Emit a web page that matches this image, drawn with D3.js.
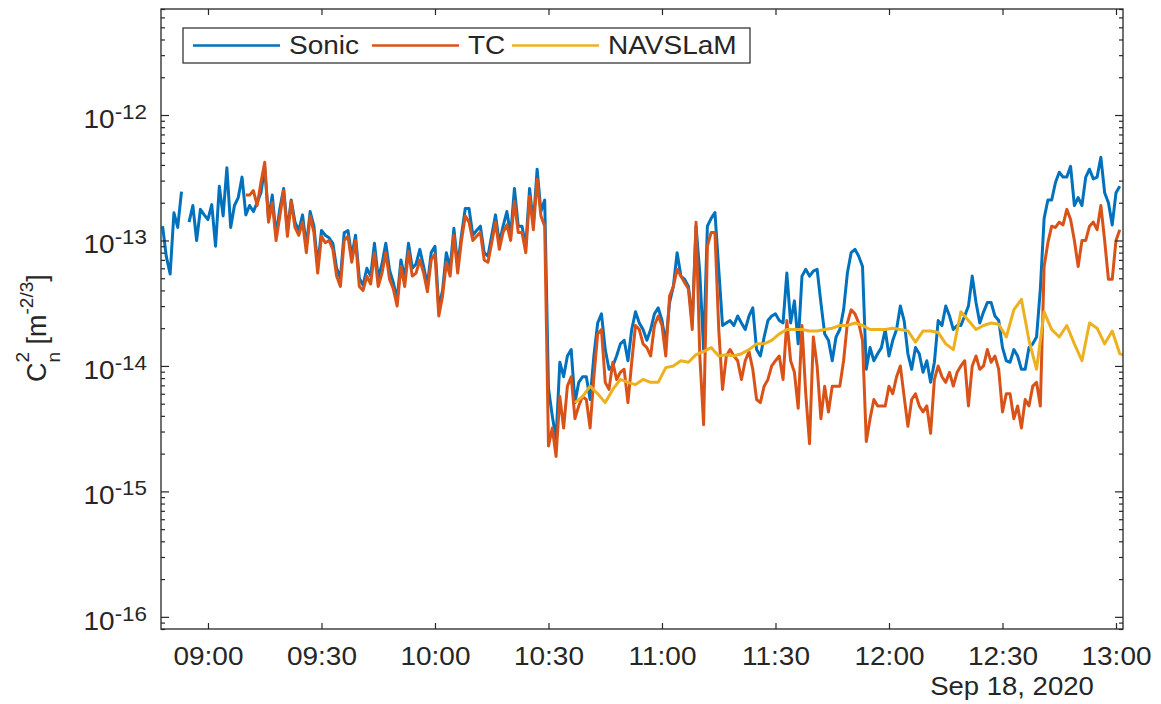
<!DOCTYPE html>
<html>
<head>
<meta charset="utf-8">
<script src="https://cdn.jsdelivr.net/npm/d3@7"></script>
<style>
  body { margin: 0; background: #fff; }
  svg { display: block; font-family: "Liberation Sans", Arial, sans-serif; }
</style>
</head>
<body>
<div id="chart"></div>
<script>
// Series, one sample per minute (NAVSLaM every two minutes), values in m^-2/3.
const day = "2020-09-18";
const sonicStart = "08:48";
const sonicStep = 1;
const sonicValues = [
  1.3e-13, 7.4e-14, 5.4e-14, 1.66e-13, 1.27e-13, 2.45e-13, null, 1.4e-13, 1.9e-13, 1.0e-13,
  1.77e-13, 1.6e-13, 1.47e-13, 1.93e-13, 9e-14, 2.7e-13, 1.57e-13, 3.8e-13, 1.27e-13, 1.9e-13,
  2.2e-13, 3.2e-13, 1.6e-13, 1.9e-13, 1.7e-13, 2.0e-13, 2.4e-13, 3.8e-13, 1.5e-13, 2.3e-13,
  1.1e-13, 1.8e-13, 2.6e-13, 1.2e-13, 2.1e-13, 1.4e-13, 1.2e-13, 1.6e-13, 9e-14, 1.7e-13,
  1.3e-13, 6.3e-14, 1.2e-13, 1.1e-13, 1.05e-13, 9.5e-14, 6e-14, 5e-14, 1.15e-13, 1.2e-13,
  7.5e-14, 1.1e-13, 5e-14, 4.4e-14, 6e-14, 5.2e-14, 9.5e-14, 5e-14, 6.5e-14, 9.5e-14,
  5.8e-14, 4.6e-14, 3.4e-14, 7e-14, 5e-14, 9.5e-14, 6e-14, 6.5e-14, 8.5e-14, 6.2e-14,
  4.4e-14, 8e-14, 9e-14, 2.9e-14, 4e-14, 8e-14, 6e-14, 1.25e-13, 6.3e-14, 1.1e-13,
  1.8e-13, 1.8e-13, 1.1e-13, 1.2e-13, 1.3e-13, 8e-14, 7.5e-14, 1.1e-13, 1.6e-13, 9.5e-14,
  1.3e-13, 1.7e-13, 1.1e-13, 2.6e-13, 1.3e-13, 1.3e-13, 9e-14, 2.6e-13, 1.35e-13, 3.7e-13,
  1.7e-13, 2.1e-13, 6.6e-15, 4.0e-15, 2.6e-15, 1.07e-14, 8.2e-15, 1.2e-14, 1.35e-14, 5.1e-15,
  7.4e-15, 8.2e-15, 8.2e-15, 5.4e-15, 1.2e-14, 2.2e-14, 2.6e-14, 1.35e-14, 9.4e-15, 1.0e-14,
  1.2e-14, 1.5e-14, 1.6e-14, 1.1e-14, 1.95e-14, 2.7e-14, 2.2e-14, 1.95e-14, 1.6e-14, 1.95e-14,
  2.6e-14, 2.9e-14, 2.3e-14, 1.5e-14, 3.2e-14, 4.3e-14, 8e-14, 5.2e-14, 4.9e-14, 4.3e-14,
  2.2e-14, 1.3e-13, 5.5e-14, 1.35e-14, 1.3e-13, 1.5e-13, 1.67e-13, 5.9e-14, 2.1e-14, 2.2e-14,
  2.3e-14, 2.1e-14, 2.5e-14, 2.2e-14, 1.95e-14, 2.5e-14, 2.9e-14, 1.35e-14, 1.2e-14, 1.7e-14,
  2.3e-14, 2.5e-14, 2.6e-14, 2.3e-14, 2.2e-14, 5.5e-14, 2.2e-14, 3.3e-14, 1.5e-14, 5.2e-14,
  5.9e-14, 5.2e-14, 5.7e-14, 5.9e-14, 3.2e-14, 1.8e-14, 1.6e-14, 1.1e-14, 1.7e-14, 1.95e-14,
  2.8e-14, 5.5e-14, 8e-14, 8.5e-14, 7.5e-14, 6.2e-14, 9.4e-15, 1.4e-14, 1.1e-14, 1.25e-14,
  1.4e-14, 1.95e-14, 1.2e-14, 1.6e-14, 1.95e-14, 3.0e-14, 2.3e-14, 1.25e-14, 9.4e-15, 1.4e-14,
  1.25e-14, 8.9e-15, 1.1e-14, 7.4e-15, 1.07e-14, 2.3e-14, 2.1e-14, 3.0e-14, 2.5e-14, 1.95e-14,
  2.1e-14, 2.1e-14, 2.5e-14, 3.0e-14, 5.2e-14, 3.2e-14, 2.2e-14, 2.7e-14, 3.2e-14, 3.2e-14,
  2.5e-14, 2.3e-14, 1.4e-14, 1.1e-14, 1.07e-14, 1.35e-14, 1.2e-14, 9.4e-15, 9.4e-15, 1.4e-14,
  1.5e-14, 1.7e-14, 4.1e-14, 1.5e-13, 2.1e-13, 2.1e-13, 2.9e-13, 3.5e-13, 3.2e-13, 3.2e-13,
  3.9e-13, 1.9e-13, 2.2e-13, 1.9e-13, 3.2e-13, 3.7e-13, 3.1e-13, 3.2e-13, 4.6e-13, 2.4e-13,
  2.0e-13, 1.33e-13, 2.4e-13, 2.7e-13
];

const tcStart = "09:10";
const tcStep = 1;
const tcValues = [
  2.3e-13, 2.3e-13, 2.5e-13, 1.9e-13, 2.9e-13, 4.2e-13, 1.4e-13, 2.0e-13, 1.0e-13, 1.57e-13,
  2.5e-13, 1.08e-13, 2.05e-13, 1.27e-13, 1.1e-13, 1.4e-13, 8e-14, 1.57e-13, 1.16e-13, 5.5e-14,
  1.08e-13, 9.6e-14, 1.0e-13, 8.5e-14, 5.2e-14, 4.3e-14, 1.0e-13, 1.08e-13, 6.7e-14, 1.0e-13,
  4.3e-14, 4.0e-14, 5.2e-14, 4.5e-14, 8e-14, 4.3e-14, 5.5e-14, 8e-14, 4.9e-14, 4.1e-14,
  3.0e-14, 6.2e-14, 4.3e-14, 8.2e-14, 5.2e-14, 5.5e-14, 7e-14, 5.5e-14, 3.9e-14, 7e-14,
  7.8e-14, 2.5e-14, 3.6e-14, 6.7e-14, 5.2e-14, 1.1e-13, 5.5e-14, 1.0e-13, 1.57e-13, 1.4e-13,
  1.0e-13, 1.08e-13, 1.16e-13, 7e-14, 6.7e-14, 9.6e-14, 1.4e-13, 8.5e-14, 1.16e-13, 1.33e-13,
  1.0e-13, 2.05e-13, 1.16e-13, 1.16e-13, 8e-14, 2.25e-13, 1.22e-13, 3.07e-13, 1.57e-13, 1.3e-13,
  2.3e-15, 3.2e-15, 1.9e-15, 5.7e-15, 3.2e-15, 6.9e-15, 8.2e-15, 3.8e-15, 4.8e-15, 5.7e-15,
  5.4e-15, 3.2e-15, 8.2e-15, 1.8e-14, 1.95e-14, 7.4e-15, 6.5e-15, 1.07e-14, 7.8e-15, 8.9e-15,
  9.4e-15, 5.1e-15, 1.07e-14, 2.1e-14, 1.95e-14, 1.5e-14, 1.4e-14, 1.2e-14, 2.1e-14, 2.5e-14,
  2.1e-14, 1.2e-14, 3.6e-14, 4.3e-14, 5.9e-14, 5.2e-14, 4.6e-14, 4.1e-14, 1.95e-14, 1.4e-13,
  1.2e-14, 3.4e-15, 9e-14, 1.16e-13, 1.16e-13, 1.95e-14, 6.5e-15, 1.2e-14, 1.35e-14, 1.2e-14,
  1.1e-14, 7.8e-15, 1.1e-14, 1.3e-14, 9.4e-15, 5.4e-15, 5.1e-15, 6.9e-15, 7.8e-15, 1.0e-14,
  1.1e-14, 1.2e-14, 7.8e-15, 2.3e-14, 1.1e-14, 8.9e-15, 4.6e-15, 2.1e-14, 6e-15, 2.4e-15,
  1.7e-14, 1.0e-14, 3.8e-15, 6.9e-15, 4.3e-15, 6.9e-15, 6.9e-15, 6.9e-15, 1.1e-14, 2.2e-14,
  2.8e-14, 2.6e-14, 2.2e-14, 1.6e-14, 2.5e-15, 3.8e-15, 5.4e-15, 4.8e-15, 4.8e-15, 4.8e-15,
  6.9e-15, 6e-15, 8.2e-15, 1.0e-14, 5.7e-15, 3.3e-15, 5.4e-15, 6e-15, 4.8e-15, 4.3e-15,
  4.8e-15, 2.9e-15, 7.8e-15, 1.0e-14, 8.2e-15, 7.4e-15, 8.9e-15, 6.9e-15, 8.9e-15, 1.0e-14,
  1.1e-14, 4.8e-15, 1.0e-14, 1.2e-14, 9.4e-15, 1.0e-14, 1.35e-14, 1.07e-14, 1.2e-14, 9.4e-15,
  4.3e-15, 6e-15, 6e-15, 3.8e-15, 4.8e-15, 3.2e-15, 5.4e-15, 4.8e-15, 6.9e-15, 7.4e-15,
  4.8e-15, 6.2e-14, 9.6e-14, 1.3e-13, 1.27e-13, 1.4e-13, 1.33e-13, 1.77e-13, 1.47e-13, 1.0e-13,
  6.2e-14, 1.0e-13, 1.0e-13, 1.3e-13, 1.4e-13, 1.22e-13, 1.9e-13, 1.0e-13, 4.9e-14, 4.9e-14,
  1.0e-13, 1.22e-13
];

const navslamStart = "10:37";
const navslamStep = 2;
const navslamValues = [
  5.1e-15, 5.7e-15, 6.9e-15, 6e-15, 5.1e-15, 6.5e-15, 7.8e-15, 7.4e-15, 7.1e-15, 7.8e-15,
  7.4e-15, 7.4e-15, 9.7e-15, 1.0e-14, 1.1e-14, 1.07e-14, 1.23e-14, 1.3e-14, 1.4e-14, 1.2e-14,
  1.23e-14, 1.2e-14, 1.25e-14, 1.35e-14, 1.5e-14, 1.5e-14, 1.6e-14, 1.8e-14, 1.95e-14, 1.95e-14,
  1.95e-14, 1.9e-14, 1.9e-14, 1.95e-14, 2.0e-14, 2.1e-14, 2.1e-14, 2.2e-14, 2.1e-14, 1.95e-14,
  1.95e-14, 1.95e-14, 2.0e-14, 1.95e-14, 1.9e-14, 1.55e-14, 1.9e-14, 1.9e-14, 1.85e-14, 1.5e-14,
  1.35e-14, 2.7e-14, 2.3e-14, 1.95e-14, 2.1e-14, 2.2e-14, 2.15e-14, 1.7e-14, 2.8e-14, 3.4e-14,
  1.6e-14, 9.4e-15, 2.7e-14, 1.95e-14, 1.7e-14, 2.1e-14, 1.5e-14, 1.1e-14, 2.2e-14, 2.0e-14,
  1.5e-14, 1.9e-14, 1.25e-14, 1.2e-14
];

const seriesNames = ["Sonic", "TC", "NAVSLaM"];
const seriesColors = ["#0072BD", "#D95319", "#EDB120"];
const xTickLabels = ["09:00", "09:30", "10:00", "10:30", "11:00", "11:30", "12:00", "12:30", "13:00"];
const yTickExponents = [-16, -15, -14, -13, -12];
const dateLabel = "Sep 18, 2020";
const yLabel = { base: "C", sup: "2", sub: "n", unit: " [m", unitSup: "-2/3", close: "]" };
const xLimits = ["08:47:35", "13:01:51"];
const yLimits = [8e-17, 7e-12];

const width = 1161;
const height = 704;
const plot = { left: 161, right: 1123, top: 9, bottom: 629 };
const ink = "#262626";
const stretch = "scale(1.12,1)";

const parseTime = d3.timeParse("%Y-%m-%d %H:%M:%S");
const at = (s) => parseTime(day + " " + (s.length === 5 ? s + ":00" : s));

const x = d3.scaleTime().domain(xLimits.map(at)).range([plot.left, plot.right]);
const y = d3.scaleLog().domain(yLimits).range([plot.bottom, plot.top]);

function toPoints(values, start, step) {
  const t0 = at(start).getTime();
  return values.map((v, i) => ({ t: new Date(t0 + i * step * 60000), v: v }));
}

const series = [
  toPoints(sonicValues, sonicStart, sonicStep),
  toPoints(tcValues, tcStart, tcStep),
  toPoints(navslamValues, navslamStart, navslamStep),
];

const svg = d3
  .select("#chart")
  .append("svg")
  .attr("width", width)
  .attr("height", height);

svg.append("rect").attr("width", width).attr("height", height).attr("fill", "#fff");

svg
  .append("clipPath")
  .attr("id", "clip")
  .append("rect")
  .attr("x", plot.left)
  .attr("y", plot.top)
  .attr("width", plot.right - plot.left)
  .attr("height", plot.bottom - plot.top);

// Data lines, Sonic first so TC and NAVSLaM sit on top.
const line = d3
  .line()
  .defined((d) => d.v != null)
  .x((d) => x(d.t))
  .y((d) => y(d.v));

svg
  .append("g")
  .attr("clip-path", "url(#clip)")
  .selectAll("path")
  .data(series)
  .enter()
  .append("path")
  .attr("d", line)
  .attr("fill", "none")
  .attr("stroke", (d, i) => seriesColors[i])
  .attr("stroke-width", 3)
  .attr("stroke-linejoin", "round");

// Tick positions: major decades plus log minor ticks.
const yMajor = yTickExponents.map((e) => Math.pow(10, e));
const yAll = [];
for (let e = -17; e <= -12; e++) {
  for (let k = 1; k <= 9; k++) {
    const v = k * Math.pow(10, e);
    if (v >= yLimits[0] && v <= yLimits[1]) yAll.push(v);
  }
}
const isMajor = (v) => yMajor.some((m) => Math.abs(m - v) / m < 1e-6);
const xTicks = xTickLabels.map(at);

function styleAxis(g) {
  g.select(".domain").remove();
  g.selectAll("line").attr("stroke", ink).attr("stroke-width", 1.2);
}

// Bottom axis with labels
svg
  .append("g")
  .attr("transform", `translate(0,${plot.bottom})`)
  .call(d3.axisBottom(x).tickValues(xTicks).tickFormat(d3.timeFormat("%H:%M")).tickSizeInner(-6).tickSizeOuter(0))
  .call(styleAxis)
  .call((g) =>
    g
      .selectAll("text")
      .attr("y", 36)
      .attr("dy", 0)
      .attr("fill", ink)
      .attr("font-size", 25)
      .attr("font-family", "Liberation Sans, Arial, sans-serif")
      .attr("transform", stretch)
  );

// Top axis: ticks only
svg
  .append("g")
  .attr("transform", `translate(0,${plot.top})`)
  .call(d3.axisTop(x).tickValues(xTicks).tickFormat("").tickSizeInner(-6).tickSizeOuter(0))
  .call(styleAxis);

// Left and right axes: ticks only, minors shorter
svg
  .append("g")
  .attr("transform", `translate(${plot.left},0)`)
  .call(d3.axisLeft(y).tickValues(yAll).tickFormat("").tickSizeInner(-8).tickSizeOuter(0))
  .call(styleAxis)
  .call((g) => g.selectAll(".tick line").filter((d) => !isMajor(d)).attr("x2", 4));

svg
  .append("g")
  .attr("transform", `translate(${plot.right},0)`)
  .call(d3.axisRight(y).tickValues(yAll).tickFormat("").tickSizeInner(-8).tickSizeOuter(0))
  .call(styleAxis)
  .call((g) => g.selectAll(".tick line").filter((d) => !isMajor(d)).attr("x2", -4));

// Box
svg
  .append("rect")
  .attr("x", plot.left)
  .attr("y", plot.top)
  .attr("width", plot.right - plot.left)
  .attr("height", plot.bottom - plot.top)
  .attr("fill", "none")
  .attr("stroke", ink)
  .attr("stroke-width", 1.3);

// Y tick labels 10^e
const yLabels = svg
  .append("g")
  .selectAll("text")
  .data(yTickExponents)
  .enter()
  .append("text")
  .attr("transform", (e) => `translate(147,${y(Math.pow(10, e)) + 13}) ${stretch}`)
  .attr("text-anchor", "end")
  .attr("fill", ink)
  .attr("font-size", 25);
yLabels.append("tspan").text("10");
yLabels
  .append("tspan")
  .attr("dy", -9)
  .attr("font-size", 20)
  .text((e) => String(e));

// Date under the last ticks
svg
  .append("text")
  .attr("transform", `translate(1012,695) scale(1.1,1)`)
  .attr("text-anchor", "middle")
  .attr("fill", ink)
  .attr("font-size", 25)
  .text(dateLabel);

// Y axis title: C_n^2 [m^-2/3]
const yt = svg
  .append("text")
  .attr("transform", "translate(46,382) rotate(-90)")
  .attr("fill", ink)
  .attr("font-size", 27);
yt.append("tspan").text(yLabel.base);
yt.append("tspan").attr("font-size", 19).attr("dy", -17).text(yLabel.sup);
yt.append("tspan").attr("font-size", 19).attr("dx", -10.6).attr("dy", 31).text(yLabel.sub);
yt.append("tspan").attr("dy", -14).text(yLabel.unit);
yt.append("tspan").attr("font-size", 19).attr("dy", -13).text(yLabel.unitSup);
yt.append("tspan").attr("dy", 13).text(yLabel.close);

// Legend
const legend = svg.append("g");
legend
  .append("rect")
  .attr("x", 183)
  .attr("y", 28)
  .attr("width", 567)
  .attr("height", 35)
  .attr("fill", "#fff")
  .attr("stroke", ink)
  .attr("stroke-width", 1.2);

const legendX = [193, 372, 512];
const items = legend
  .selectAll("g.item")
  .data(seriesNames)
  .enter()
  .append("g")
  .attr("class", "item")
  .attr("transform", (d, i) => `translate(${legendX[i]},0)`);
items
  .append("line")
  .attr("x1", 0)
  .attr("x2", 87)
  .attr("y1", 45.5)
  .attr("y2", 45.5)
  .attr("stroke", (d, i) => seriesColors[i])
  .attr("stroke-width", 2.4);
items
  .append("text")
  .attr("transform", `translate(96,54) ${stretch}`)
  .attr("fill", ink)
  .attr("font-size", 25)
  .text((d) => d);
</script>
</body>
</html>
